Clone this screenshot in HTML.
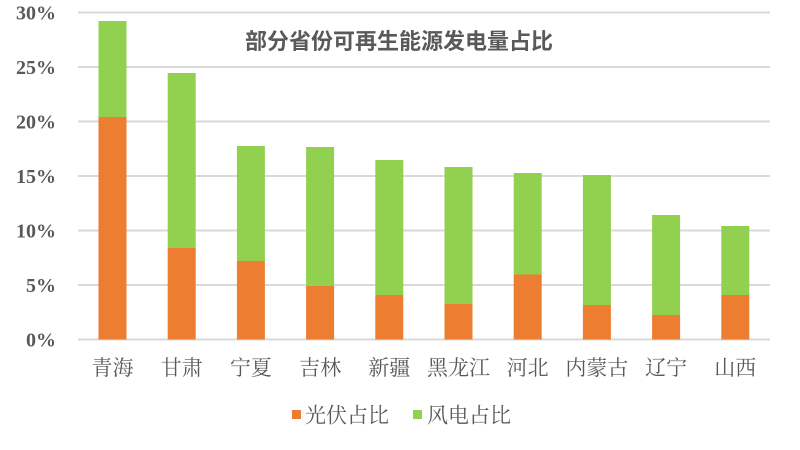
<!DOCTYPE html>
<html>
<head>
<meta charset="utf-8">
<style>
  html, body { margin: 0; padding: 0; background: #ffffff; }
  body { width: 800px; height: 450px; overflow: hidden; }
  svg { display: block; }
  .yl { font-family: "Liberation Serif", "Noto Serif CJK SC", serif; font-weight: bold; font-size: 20px; fill: #595959; }
  .xl { font-family: "Liberation Serif", "Noto Serif CJK SC", serif; font-size: 21px; fill: #595959; }
  .tt { font-family: "Liberation Sans", "Noto Sans CJK SC", sans-serif; font-weight: bold; font-size: 22px; fill: #595959; }
  .lg { font-family: "Liberation Serif", "Noto Serif CJK SC", serif; font-size: 21px; fill: #595959; }
</style>
</head>
<body>
<svg width="800" height="450" viewBox="0 0 800 450" xmlns="http://www.w3.org/2000/svg">
  <rect width="800" height="450" fill="#ffffff"/>
  <!-- gridlines -->
  <g stroke="#D9D9D9" stroke-width="2">
    <line x1="78" y1="12.5" x2="770" y2="12.5"/>
    <line x1="78" y1="67" x2="770" y2="67"/>
    <line x1="78" y1="121.5" x2="770" y2="121.5"/>
    <line x1="78" y1="176" x2="770" y2="176"/>
    <line x1="78" y1="230.5" x2="770" y2="230.5"/>
    <line x1="78" y1="285" x2="770" y2="285"/>
    <line x1="78" y1="339.5" x2="770" y2="339.5"/>
  </g>
  <!-- y labels -->
  <g class="yl" text-anchor="end">
    <text x="56" y="19.5">30%</text>
    <text x="56" y="74">25%</text>
    <text x="56" y="128.5">20%</text>
    <text x="56" y="183">15%</text>
    <text x="56" y="237.5">10%</text>
    <text x="56" y="292">5%</text>
    <text x="56" y="346.5">0%</text>
  </g>
  <!-- title -->
  <text class="tt" x="399" y="49" text-anchor="middle">部分省份可再生能源发电量占比</text>
  <!-- bars -->
  <g>
    <!-- 青海 -->
    <rect x="98.5" y="21" width="28" height="96" fill="#92D050"/>
    <rect x="98.5" y="117" width="28" height="222.5" fill="#ED7D31"/>
    <!-- 甘肃 -->
    <rect x="167.7" y="73" width="28" height="175" fill="#92D050"/>
    <rect x="167.7" y="248" width="28" height="91.5" fill="#ED7D31"/>
    <!-- 宁夏 -->
    <rect x="236.9" y="146" width="28" height="115" fill="#92D050"/>
    <rect x="236.9" y="261" width="28" height="78.5" fill="#ED7D31"/>
    <!-- 吉林 -->
    <rect x="306.1" y="147" width="28" height="139" fill="#92D050"/>
    <rect x="306.1" y="286" width="28" height="53.5" fill="#ED7D31"/>
    <!-- 新疆 -->
    <rect x="375.3" y="160" width="28" height="135" fill="#92D050"/>
    <rect x="375.3" y="295" width="28" height="44.5" fill="#ED7D31"/>
    <!-- 黑龙江 -->
    <rect x="444.5" y="167" width="28" height="137" fill="#92D050"/>
    <rect x="444.5" y="304" width="28" height="35.5" fill="#ED7D31"/>
    <!-- 河北 -->
    <rect x="513.7" y="173" width="28" height="101.5" fill="#92D050"/>
    <rect x="513.7" y="274.5" width="28" height="65" fill="#ED7D31"/>
    <!-- 内蒙古 -->
    <rect x="582.9" y="175" width="28" height="130" fill="#92D050"/>
    <rect x="582.9" y="305" width="28" height="34.5" fill="#ED7D31"/>
    <!-- 辽宁 -->
    <rect x="652.1" y="215" width="28" height="100" fill="#92D050"/>
    <rect x="652.1" y="315" width="28" height="24.5" fill="#ED7D31"/>
    <!-- 山西 -->
    <rect x="721.3" y="226" width="28" height="69" fill="#92D050"/>
    <rect x="721.3" y="295" width="28" height="44.5" fill="#ED7D31"/>
  </g>
  <!-- x labels -->
  <g class="xl" text-anchor="middle">
    <text x="112.5" y="375">青海</text>
    <text x="181.7" y="375">甘肃</text>
    <text x="250.9" y="375">宁夏</text>
    <text x="320.1" y="375">吉林</text>
    <text x="389.3" y="375">新疆</text>
    <text x="458.5" y="375">黑龙江</text>
    <text x="527.7" y="375">河北</text>
    <text x="596.9" y="375">内蒙古</text>
    <text x="666.1" y="375">辽宁</text>
    <text x="735.3" y="375">山西</text>
  </g>
  <!-- legend -->
  <rect x="292" y="410" width="9" height="9" fill="#ED7D31"/>
  <text class="lg" x="305" y="422.5">光伏占比</text>
  <rect x="413" y="410" width="9" height="9" fill="#92D050"/>
  <text class="lg" x="427" y="422.5">风电占比</text>
</svg>
</body>
</html>
